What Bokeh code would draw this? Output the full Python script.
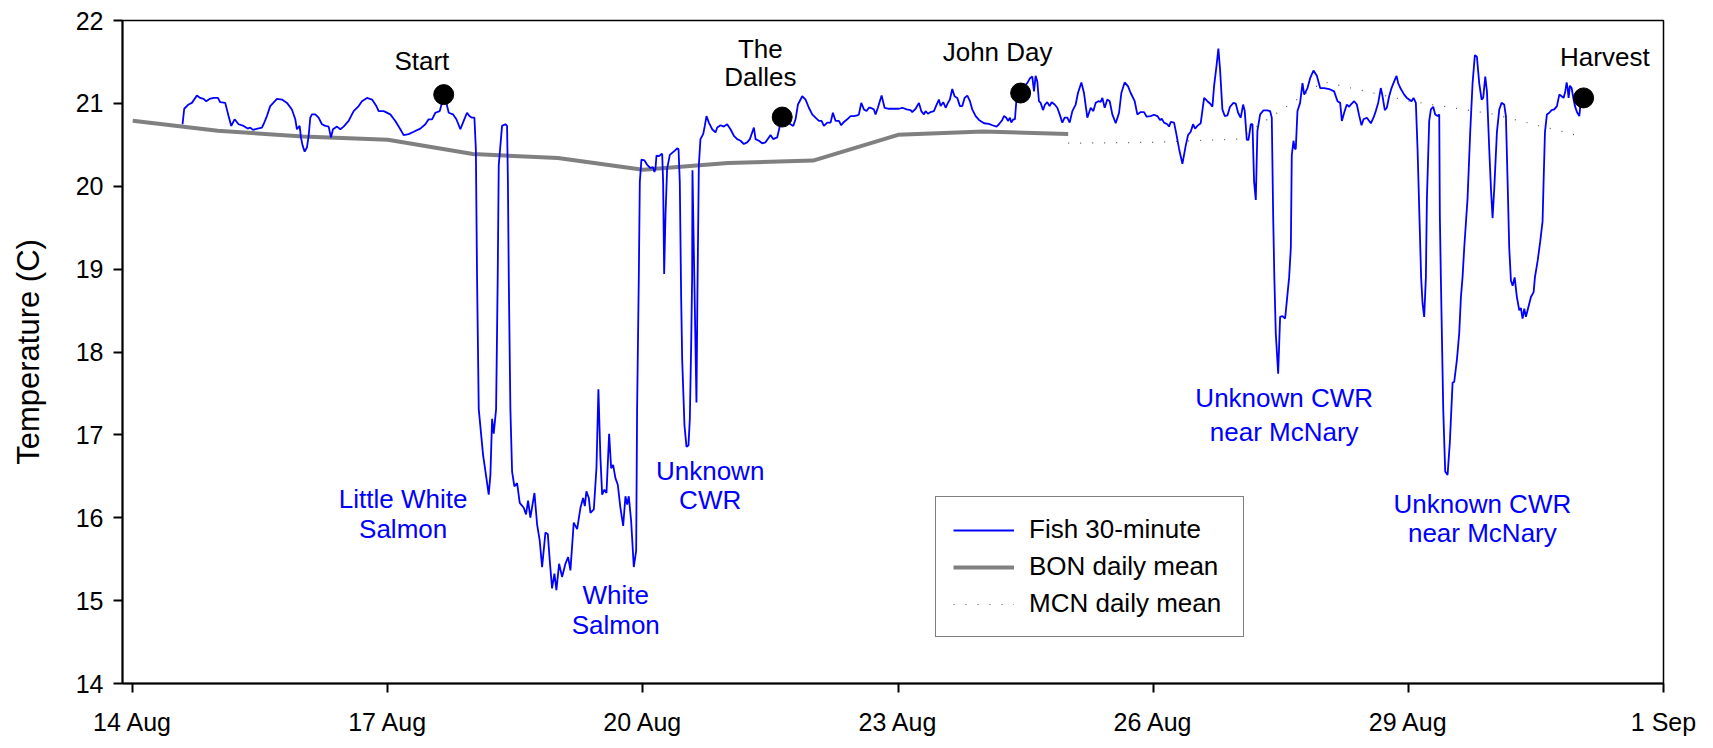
from bokeh.plotting import figure
from bokeh.models import Range1d, Legend, LegendItem, FixedTicker, ColumnDataSource
from bokeh.core.properties import value
from bokeh.embed import file_html
from bokeh.resources import INLINE

FONT = "Liberation Sans"

# ---------------- data (x = day of August; 32 = 1 Sep) ----------------
fish_day = [
    14.586, 14.606, 14.657, 14.696, 14.755, 14.794, 14.833, 14.865, 14.904, 14.951,
    15.002, 15.029, 15.088, 15.127, 15.159, 15.198, 15.245, 15.304, 15.351, 15.382,
    15.414, 15.468, 15.519, 15.539, 15.578, 15.617, 15.696, 15.755, 15.814, 15.872,
    15.912, 15.931, 15.963, 15.978, 15.998, 16.022, 16.049, 16.069, 16.088, 16.108,
    16.147, 16.186, 16.225, 16.265, 16.304, 16.331, 16.355, 16.402, 16.441, 16.480,
    16.539, 16.598, 16.657, 16.696, 16.755, 16.814, 16.865, 16.892, 16.951, 17.029,
    17.088, 17.147, 17.186, 17.245, 17.304, 17.382, 17.441, 17.480, 17.520, 17.559,
    17.610, 17.637, 17.688, 17.716, 17.767, 17.806, 17.853, 17.892, 17.931, 17.959,
    17.990, 18.018, 18.035, 18.049, 18.069, 18.120, 18.159, 18.186, 18.206, 18.226,
    18.245, 18.273, 18.292, 18.304, 18.343, 18.382, 18.402, 18.412, 18.422, 18.441,
    18.461, 18.488, 18.520, 18.551, 18.598, 18.625, 18.649, 18.676, 18.724, 18.755,
    18.786, 18.814, 18.853, 18.881, 18.904, 18.931, 18.959, 18.982, 19.014, 19.049,
    19.088, 19.120, 19.147, 19.186, 19.226, 19.265, 19.296, 19.316, 19.335, 19.363,
    19.382, 19.422, 19.453, 19.476, 19.500, 19.520, 19.547, 19.571, 19.602, 19.626,
    19.649, 19.676, 19.704, 19.735, 19.767, 19.794, 19.814, 19.833, 19.861, 19.892,
    19.920, 19.931, 19.951, 19.963, 19.982, 20.018, 20.049, 20.088, 20.116, 20.135,
    20.147, 20.159, 20.186, 20.206, 20.226, 20.237, 20.249, 20.265, 20.284, 20.316,
    20.343, 20.375, 20.402, 20.418, 20.433, 20.449, 20.461, 20.488, 20.512, 20.535,
    20.551, 20.567, 20.578, 20.582, 20.629, 20.640, 20.657, 20.676, 20.708, 20.727,
    20.747, 20.775, 20.814, 20.853, 20.873, 20.912, 20.951, 20.990, 21.029, 21.069,
    21.108, 21.147, 21.186, 21.225, 21.257, 21.284, 21.304, 21.324, 21.363, 21.402,
    21.441, 21.480, 21.500, 21.531, 21.578, 21.610, 21.626, 21.696, 21.735, 21.767,
    21.794, 21.822, 21.873, 21.912, 21.951, 21.990, 22.029, 22.069, 22.100, 22.127,
    22.167, 22.206, 22.233, 22.265, 22.304, 22.331, 22.363, 22.402, 22.441, 22.480,
    22.520, 22.539, 22.567, 22.598, 22.629, 22.657, 22.676, 22.715, 22.735, 22.762,
    22.806, 22.841, 22.892, 22.951, 23.010, 23.049, 23.100, 23.147, 23.166, 23.206,
    23.245, 23.272, 23.304, 23.323, 23.351, 23.382, 23.421, 23.453, 23.480, 23.500,
    23.531, 23.559, 23.586, 23.609, 23.637, 23.664, 23.696, 23.727, 23.755, 23.782,
    23.814, 23.845, 23.872, 23.912, 23.951, 24.010, 24.068, 24.108, 24.158, 24.186,
    24.225, 24.245, 24.272, 24.292, 24.315, 24.331, 24.355, 24.374, 24.390, 24.480,
    24.519, 24.551, 24.578, 24.598, 24.617, 24.637, 24.656, 24.676, 24.704, 24.727,
    24.754, 24.782, 24.806, 24.841, 24.872, 24.900, 24.931, 24.958, 24.990, 25.017,
    25.049, 25.088, 25.115, 25.155, 25.186, 25.225, 25.265, 25.296, 25.323, 25.355,
    25.382, 25.402, 25.429, 25.460, 25.488, 25.519, 25.559, 25.598, 25.625, 25.664,
    25.704, 25.735, 25.782, 25.813, 25.853, 25.892, 25.923, 25.970, 26.009, 26.049,
    26.080, 26.100, 26.127, 26.166, 26.186, 26.206, 26.245, 26.272, 26.304, 26.343,
    26.382, 26.409, 26.441, 26.468, 26.492, 26.519, 26.558, 26.598, 26.637, 26.668,
    26.696, 26.715, 26.743, 26.766, 26.786, 26.813, 26.841, 26.872, 26.903, 26.943,
    26.970, 26.998, 27.029, 27.057, 27.076, 27.100, 27.120, 27.147, 27.167, 27.186,
    27.206, 27.225, 27.257, 27.296, 27.343, 27.374, 27.394, 27.410, 27.424, 27.441,
    27.469, 27.492, 27.520, 27.551, 27.579, 27.598, 27.618, 27.629, 27.649, 27.665,
    27.676, 27.696, 27.727, 27.755, 27.775, 27.814, 27.845, 27.884, 27.924, 27.963,
    28.010, 28.069, 28.127, 28.167, 28.198, 28.218, 28.245, 28.276, 28.304, 28.323,
    28.363, 28.394, 28.421, 28.449, 28.473, 28.512, 28.559, 28.590, 28.617, 28.645,
    28.676, 28.696, 28.723, 28.747, 28.774, 28.802, 28.833, 28.861, 28.880, 28.912,
    28.951, 28.982, 29.010, 29.037, 29.061, 29.088, 29.108, 29.135, 29.150, 29.167,
    29.186, 29.206, 29.218, 29.245, 29.265, 29.292, 29.316, 29.343, 29.363, 29.370,
    29.382, 29.410, 29.433, 29.461, 29.488, 29.520, 29.539, 29.571, 29.598, 29.618,
    29.637, 29.657, 29.696, 29.727, 29.755, 29.782, 29.806, 29.833, 29.861, 29.880,
    29.904, 29.924, 29.951, 29.971, 29.990, 30.010, 30.041, 30.069, 30.096, 30.127,
    30.147, 30.167, 30.186, 30.206, 30.226, 30.250, 30.276, 30.304, 30.323, 30.343,
    30.363, 30.382, 30.402, 30.441, 30.473, 30.488, 30.520, 30.551, 30.578, 30.590,
    30.606, 30.629, 30.657, 30.684, 30.716, 30.747, 30.775, 30.802, 30.825, 30.845,
    30.861, 30.873, 30.884, 30.900, 30.920, 30.943, 30.959, 30.982, 31.010, 31.022,
]
fish_temp = [
    20.748, 20.935, 20.987, 21.006, 21.094, 21.066, 21.054, 21.026, 21.054, 21.066,
    21.066, 21.014, 21.006, 20.847, 20.728, 20.808, 20.748, 20.728, 20.696, 20.708,
    20.680, 20.696, 20.708, 20.748, 20.847, 20.967, 21.054, 21.046, 21.006, 20.927,
    20.808, 20.688, 20.728, 20.589, 20.490, 20.418, 20.470, 20.609, 20.827, 20.867,
    20.867, 20.827, 20.748, 20.728, 20.720, 20.589, 20.688, 20.720, 20.688, 20.720,
    20.788, 20.907, 20.967, 21.026, 21.066, 21.046, 20.967, 20.907, 20.907, 20.867,
    20.788, 20.688, 20.617, 20.629, 20.657, 20.696, 20.748, 20.808, 20.808, 20.887,
    20.907, 21.006, 21.006, 20.887, 20.867, 20.808, 20.688, 20.788, 20.887, 20.847,
    20.827, 20.827, 20.450, 18.900, 17.310, 16.756, 16.478, 16.279, 16.517, 17.193,
    17.014, 17.310, 18.900, 20.250, 20.728, 20.748, 20.728, 20.050, 18.900, 17.310,
    16.557, 16.378, 16.418, 16.180, 16.120, 16.041, 16.207, 16.001, 16.299, 15.921,
    15.723, 15.405, 15.822, 15.802, 15.484, 15.147, 15.325, 15.127, 15.445, 15.286,
    15.445, 15.524, 15.365, 15.941, 15.862, 16.120, 16.239, 16.140, 16.319, 16.239,
    16.060, 16.100, 16.597, 17.550, 16.716, 16.279, 16.338, 16.299, 17.014, 16.597,
    16.637, 16.478, 16.398, 16.120, 15.901, 16.259, 16.160, 16.259, 15.961, 15.405,
    15.603, 17.310, 18.900, 20.053, 20.323, 20.311, 20.259, 20.220, 20.232, 20.172,
    20.212, 20.371, 20.363, 20.379, 20.391, 20.053, 18.940, 19.655, 20.212, 20.379,
    20.403, 20.430, 20.458, 20.450, 20.053, 18.660, 17.910, 17.113, 16.855, 16.875,
    17.193, 18.106, 18.900, 20.192, 17.391, 18.660, 20.252, 20.569, 20.629, 20.728,
    20.847, 20.768, 20.688, 20.649, 20.708, 20.736, 20.720, 20.748, 20.688, 20.609,
    20.569, 20.549, 20.510, 20.530, 20.569, 20.649, 20.708, 20.569, 20.549, 20.518,
    20.530, 20.589, 20.617, 20.569, 20.589, 20.728, 20.768, 20.768, 20.748, 20.728,
    20.808, 20.986, 21.086, 21.046, 20.947, 20.867, 20.827, 20.788, 20.788, 20.728,
    20.768, 20.768, 20.887, 20.788, 20.788, 20.736, 20.776, 20.808, 20.847, 20.847,
    20.855, 20.867, 21.006, 20.927, 20.907, 20.947, 20.947, 20.927, 20.867, 20.947,
    21.094, 20.947, 20.935, 20.935, 20.935, 20.947, 20.927, 20.919, 20.895, 20.935,
    21.006, 20.907, 20.867, 20.907, 20.875, 20.895, 20.907, 20.986, 21.046, 20.967,
    21.014, 20.947, 21.006, 21.046, 21.173, 21.086, 21.066, 20.967, 20.967, 21.066,
    21.094, 21.026, 20.927, 20.847, 20.800, 20.760, 20.752, 20.736, 20.720, 20.748,
    20.800, 20.847, 20.827, 20.788, 20.827, 20.768, 20.808, 20.808, 21.026, 21.205,
    21.245, 21.304, 21.324, 21.145, 21.332, 21.265, 21.026, 21.006, 20.919, 20.986,
    21.014, 20.967, 21.014, 20.986, 20.947, 20.867, 20.768, 20.827, 20.827, 20.768,
    20.907, 20.986, 21.125, 21.253, 21.125, 20.827, 20.947, 20.907, 21.006, 21.026,
    21.018, 21.066, 20.947, 21.046, 21.026, 20.867, 20.760, 20.887, 21.125, 21.253,
    21.205, 21.125, 21.026, 20.867, 20.895, 20.895, 20.839, 20.847, 20.863, 20.847,
    20.800, 20.815, 20.768, 20.748, 20.720, 20.776, 20.768, 20.629, 20.450, 20.271,
    20.490, 20.617, 20.657, 20.748, 20.696, 20.728, 20.760, 21.066, 21.026, 20.998,
    20.959, 21.205, 21.443, 21.660, 21.404, 20.927, 20.847, 20.855, 20.959, 21.006,
    20.998, 20.887, 20.827, 20.986, 20.907, 20.561, 20.561, 20.748, 20.748, 20.053,
    19.834, 20.669, 20.867, 20.915, 20.915, 20.907, 20.827, 19.655, 18.900, 18.226,
    17.737, 18.424, 18.432, 18.404, 18.702, 18.900, 19.258, 20.371, 20.549, 20.450,
    20.450, 20.907, 21.006, 21.245, 21.106, 21.185, 21.304, 21.396, 21.332, 21.185,
    21.185, 21.173, 21.145, 21.026, 21.006, 20.788, 20.887, 20.986, 20.959, 20.986,
    21.026, 20.986, 20.855, 20.736, 20.808, 20.827, 20.760, 20.827, 20.907, 21.006,
    21.185, 21.086, 20.919, 20.947, 21.086, 21.185, 21.265, 21.332, 21.245, 21.173,
    21.106, 21.066, 21.046, 21.026, 21.066, 21.006, 20.450, 19.457, 18.900, 18.583,
    18.424, 18.900, 19.854, 20.788, 20.927, 20.959, 20.867, 20.847, 20.867, 19.655,
    18.900, 17.310, 16.557, 16.517, 16.914, 17.630, 17.638, 17.908, 18.226, 18.663,
    18.900, 19.258, 19.854, 20.649, 21.245, 21.582, 21.563, 21.245, 21.046, 21.066,
    21.324, 21.145, 20.450, 19.973, 19.616, 19.973, 20.649, 20.927, 21.006, 20.986,
    20.847, 20.053, 19.258, 18.860, 18.800, 18.900, 18.663, 18.504, 18.530, 18.404,
    18.523, 18.424, 18.504, 18.663, 18.722, 18.900, 19.099, 19.337, 19.576, 20.053,
    20.649, 20.867, 20.887, 20.919, 20.927, 20.967, 21.106, 21.086, 21.066, 21.145,
    21.253, 21.185, 21.066, 21.213, 21.185, 21.046, 20.967, 20.895, 20.847, 20.967,
]

bon_day = [14, 15, 16, 17, 18, 19, 20, 21, 22, 23, 24, 25]
bon_temp = [20.79, 20.67, 20.60, 20.56, 20.39, 20.34, 20.20, 20.28, 20.31, 20.62, 20.66, 20.63]

mcn_day = [25, 26, 27, 28, 29, 30, 31]
mcn_temp = [20.52, 20.53, 20.57, 21.26, 21.03, 20.87, 20.61]

event_day = [17.657, 21.637, 24.441, 31.061]
event_temp = [21.106, 20.835, 21.125, 21.066]

event_label = ["Start", "The", "Dalles", "John Day", "Harvest"]
event_label_x = [17.40, 21.38, 21.38, 24.17, 31.31]
event_label_y = [21.51, 21.66, 21.32, 21.62, 21.56]

cwr_label = ["Little White", "Salmon", "White", "Salmon", "Unknown", "CWR",
             "Unknown CWR", "near McNary", "Unknown CWR", "near McNary"]
cwr_label_x = [17.18, 17.18, 19.68, 19.68, 20.79, 20.79, 27.54, 27.54, 29.87, 29.87]
cwr_label_y = [16.23, 15.87, 15.07, 14.71, 16.56, 16.21, 17.44, 17.04, 16.17, 15.81]

x_ticks = [14, 17, 20, 23, 26, 29, 32]
x_tick_labels = ["14 Aug", "17 Aug", "20 Aug", "23 Aug", "26 Aug", "29 Aug", "1 Sep"]
y_ticks = [14, 15, 16, 17, 18, 19, 20, 21, 22]

# ---------------- figure ----------------
p = figure(width=1705, height=738, output_backend="svg", toolbar_location=None,
           x_range=Range1d(13.88, 32), y_range=Range1d(14, 22),
           min_border_left=122, min_border_right=42, min_border_top=20, min_border_bottom=47)
p.background_fill_color = "white"
p.border_fill_color = "white"
p.outline_line_color = "black"
p.outline_line_width = 1.5
p.xgrid.visible = False
p.ygrid.visible = False

for ax in (p.xaxis[0], p.yaxis[0]):
    ax.axis_line_width = 2
    ax.axis_line_color = "black"
    ax.major_tick_line_width = 2
    ax.major_tick_line_color = "black"
    ax.major_tick_in = 0
    ax.major_tick_out = 9
    ax.minor_tick_line_color = None
    ax.major_label_text_font = FONT
    ax.major_label_text_font_size = "25px"
    ax.major_label_text_color = "black"

p.xaxis.ticker = FixedTicker(ticks=x_ticks)
p.xaxis.major_label_overrides = {t: l for t, l in zip(x_ticks, x_tick_labels)}
p.xaxis.major_label_standoff = 15
p.yaxis.ticker = FixedTicker(ticks=y_ticks)
p.yaxis.major_label_standoff = 10
p.yaxis.axis_label = "Temperature (C)"
p.yaxis.axis_label_text_font = FONT
p.yaxis.axis_label_text_font_size = "31px"
p.yaxis.axis_label_text_font_style = "normal"
p.yaxis.axis_label_text_color = "black"
p.yaxis.axis_label_standoff = 27

mcn = p.line(mcn_day, mcn_temp, line_color="#555555", line_width=1.2, line_dash="1 11")
bon = p.line(bon_day, bon_temp, line_color="#808080", line_width=4)
fish = p.line(fish_day, fish_temp, line_color="#0000FF", line_width=1.8)
p.scatter(event_day, event_temp, size=20, fill_color="black", line_color="black")

src_e = ColumnDataSource(dict(x=event_label_x, y=event_label_y, t=event_label))
p.text(x="x", y="y", text="t", source=src_e, text_align="center", text_baseline="middle",
       text_font=value(FONT), text_font_size="26px", text_color="black")
src_c = ColumnDataSource(dict(x=cwr_label_x, y=cwr_label_y, t=cwr_label))
p.text(x="x", y="y", text="t", source=src_c, text_align="center", text_baseline="middle",
       text_font=value(FONT), text_font_size="26px", text_color="#0000FF")

legend = Legend(items=[LegendItem(label="Fish 30-minute", renderers=[fish]),
                       LegendItem(label="BON daily mean", renderers=[bon]),
                       LegendItem(label="MCN daily mean", renderers=[mcn])],
                location=(813, 46))
legend.border_line_color = "black"
legend.border_line_width = 1.5
legend.background_fill_alpha = 1
legend.label_text_font = FONT
legend.label_text_font_size = "26px"
legend.label_text_color = "black"
legend.glyph_width = 61
legend.glyph_height = 28
legend.label_height = 28
legend.label_width = 197
legend.label_standoff = 15
legend.padding = 17
legend.spacing = 6
legend.margin = 0
p.add_layout(legend)

open("out.html", "w").write(file_html(p, INLINE))
